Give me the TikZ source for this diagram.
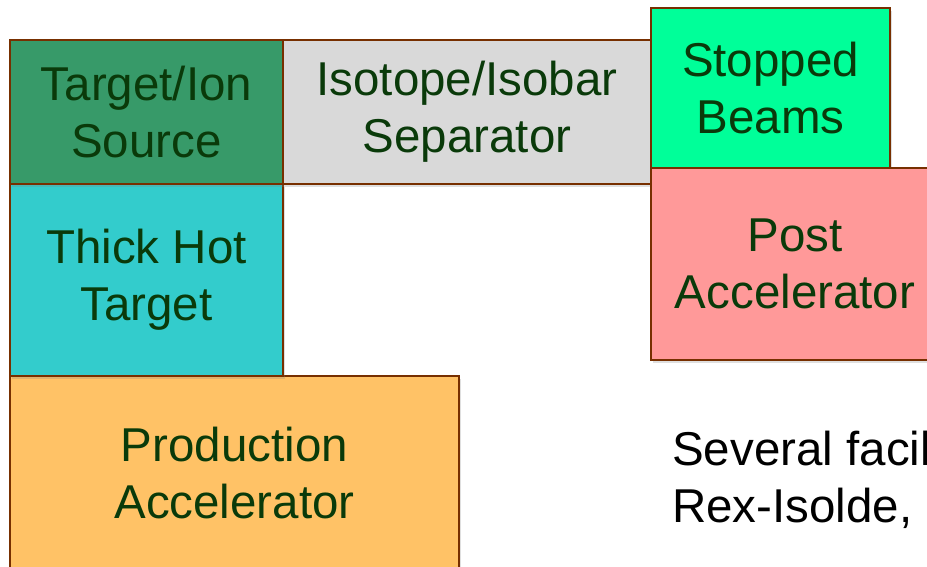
\documentclass[tikz,border=0pt]{standalone}
\usepackage{fontspec}
\setmainfont{Liberation Sans}
\usetikzlibrary{positioning,shadows}

\definecolor{edgebrown}{HTML}{772F00}
\definecolor{labelgreen}{HTML}{0A3A0A}
\definecolor{ionfill}{HTML}{379A69}
\definecolor{sepfill}{HTML}{D9D9D9}
\definecolor{stopfill}{HTML}{00FF99}
\definecolor{postfill}{HTML}{FF9999}
\definecolor{hotfill}{HTML}{33CCCC}
\definecolor{prodfill}{HTML}{FFC266}

\tikzset{
  stage/.style={draw=edgebrown,line width=2.5pt,outer sep=0pt,inner sep=0pt,
    anchor=north west,align=center,text=labelgreen,
    font=\fontsize{47.5}{57}\selectfont,
    drop shadow={shadow xshift=2pt,shadow yshift=-3pt,opacity=0.25}},
  note/.style={anchor=base west,align=left,inner sep=0pt,
    font=\fontsize{47.5}{57}\selectfont}
}

\begin{document}
\begin{tikzpicture}[x=1pt,y=-1pt]
		\useasboundingbox (0,0) rectangle (927,566);
		\clip (0,0) rectangle (927,566);
		\node[stage,fill=prodfill,minimum width=449pt,minimum height=194pt](prod) at (10,376) {Production\\Accelerator};
		\node[stage,fill=hotfill,minimum width=273pt,minimum height=192pt](hot) at (10,184) {Thick Hot\\Target};
		\node[stage,fill=ionfill,minimum width=273pt,minimum height=144pt](ion) at (10,40) {Target/Ion\\Source};
		\node[stage,fill=sepfill,minimum width=368pt,minimum height=144pt](sep) at (ion.north east) {Isotope/Isobar\\Separator\rule[-11pt]{0pt}{11pt}};
		\node[stage,fill=stopfill,minimum width=239pt,minimum height=160pt](stop) at (651,8) {Stopped\\Beams};
		\node[stage,fill=postfill,minimum width=288pt,minimum height=192pt](post) at (stop.south west) {Post\\Accelerator};
		\node[note](facil) at (672,522) {Several facil\\Rex-Isolde,};
		\end{tikzpicture}
\end{document}
